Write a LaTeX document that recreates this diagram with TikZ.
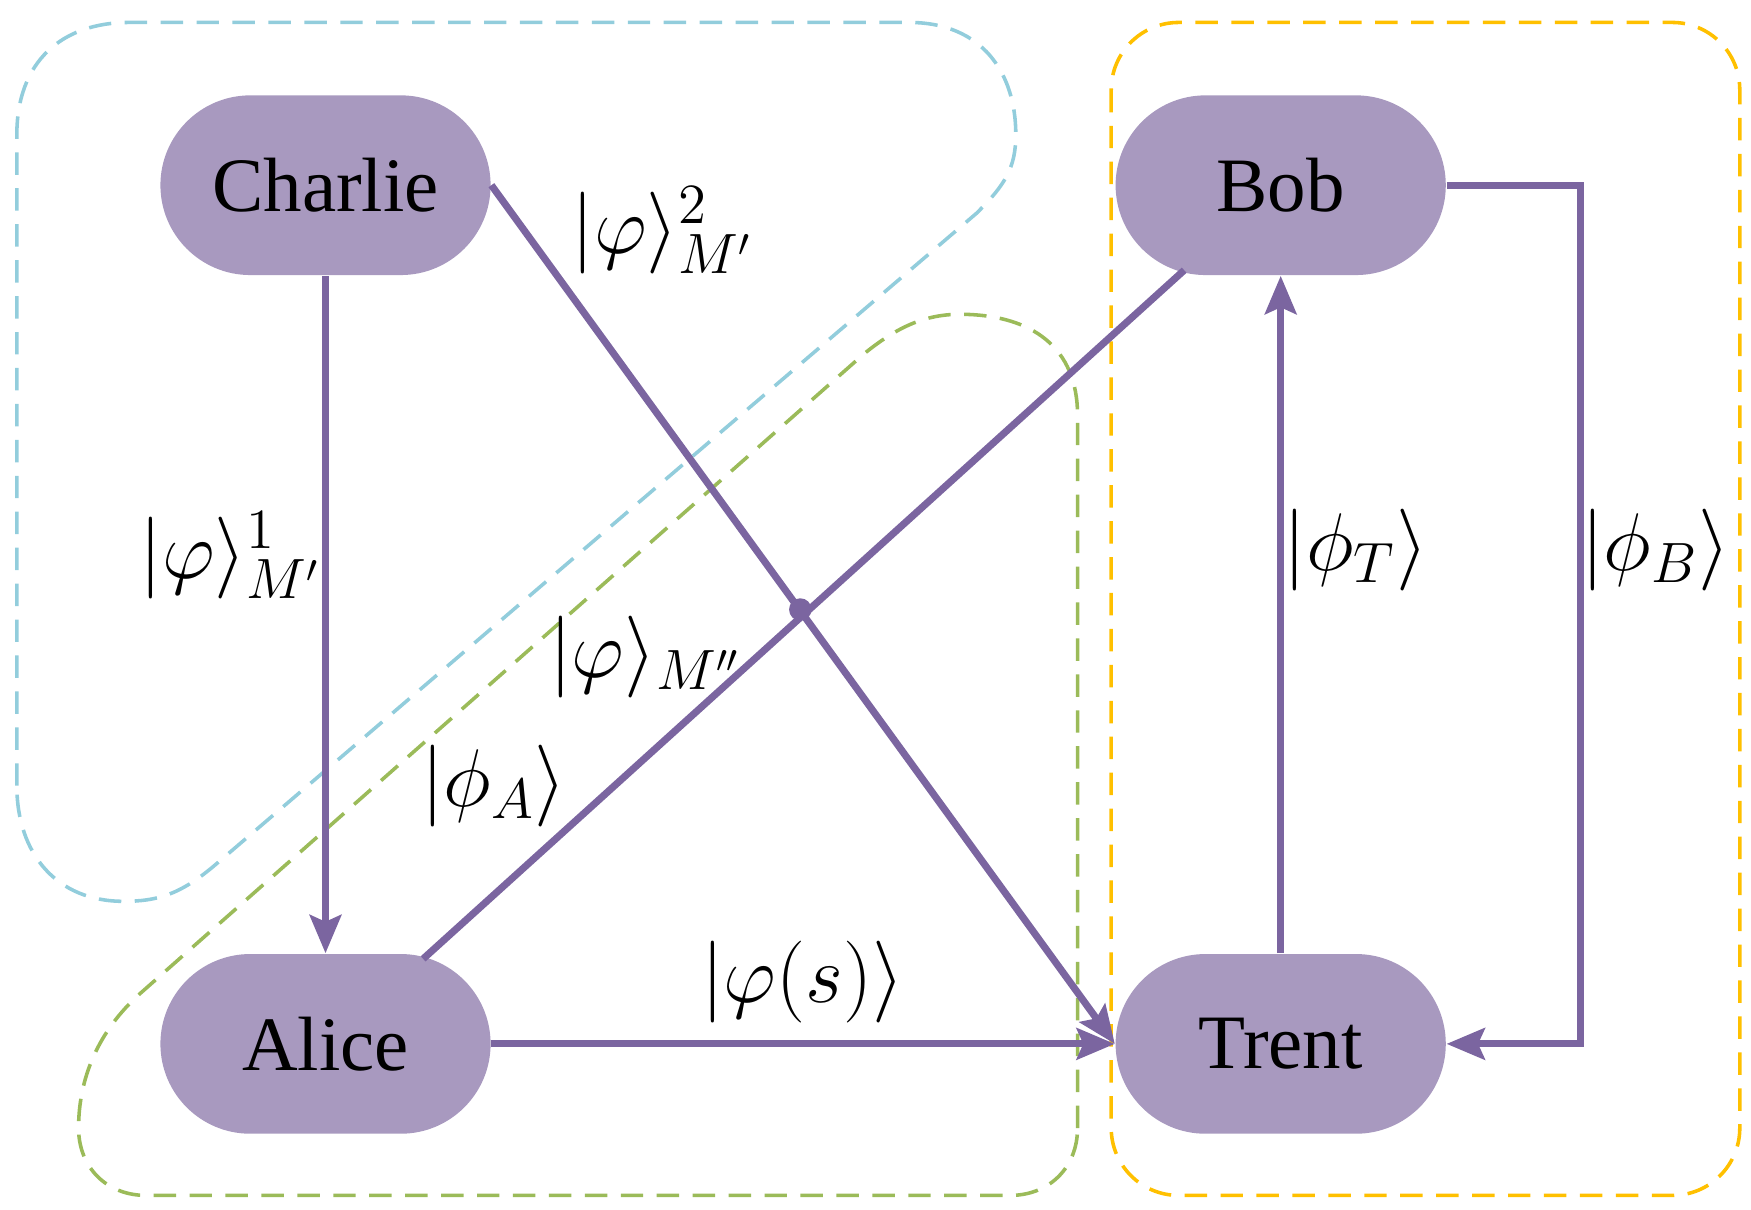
\documentclass[tikz,border=0pt]{standalone}
\usepackage{fontspec}
\setmainfont{Liberation Serif}
\usetikzlibrary{arrows.meta,calc}
\definecolor{nodefill}{HTML}{A899BF}
\definecolor{edge}{HTML}{7B65A0}
\definecolor{dblue}{HTML}{92CDDC}
\definecolor{dgreen}{HTML}{9BBB59}
\definecolor{dorange}{HTML}{FFC000}
\begin{document}
\begin{tikzpicture}[x=0.01cm,y=-0.01cm,
  party/.style={fill=nodefill,draw=none,rounded corners=0.8cm,minimum width=2.94cm,minimum height=1.6cm,font=\fontsize{19.5}{23}\selectfont,inner sep=0},
  link/.style={draw=edge,line width=1.8pt},
  arr/.style={link,-{Stealth[length=0.34cm,width=0.28cm,inset=0.06cm]}},
  zone/.style={line width=0.9pt,dash pattern=on 0.2cm off 0.12cm},
  lab/.style={font=\fontsize{19.5}{23}\selectfont}]
\useasboundingbox (0,0) rectangle (1560,1078);
% zones
\draw[zone,dblue] (15,700) -- (15,120) .. controls (15,55) and (55,20) .. (115,20)
  -- (810,20) .. controls (875,20) and (905,65) .. (905,120)
  .. controls (905,150) and (895,165) .. (870,190) -- (190,772)
  .. controls (160,797) and (140,803) .. (110,803)
  .. controls (50,803) and (15,760) .. (15,700) -- cycle;
\draw[zone,dgreen] (960,1005) -- (960,370) .. controls (960,310) and (920,280) .. (855,280)
  .. controls (820,280) and (795,295) .. (770,315) -- (125,885)
  .. controls (88,918) and (70,960) .. (70,1005)
  .. controls (70,1040) and (95,1065) .. (130,1065) -- (900,1065)
  .. controls (935,1065) and (960,1040) .. (960,1005) -- cycle;
\draw[zone,dorange,rounded corners=0.6cm] (990,20) rectangle (1550,1065);
% nodes
\node[party] (C) at (290,165) {Charlie};
\node[party] (B) at (1141,165) {Bob};
\node[party] (A) at (290,930) {Alice};
\node[party] (T) at (1141,930) {Trent};
\coordinate (Bsw) at ($(B.south)+(-86,-5)$);
\coordinate (Ane) at ($(A.north)+(87,5)$);
\coordinate (Bturn) at (1408,165);
\coordinate (Tturn) at (1408,930);
% connectors
\draw[arr] (C.south) -- (A.north);
\draw[arr] (C.east) -- (T.west);
\draw[link] (Bsw) -- (Ane);
\draw[arr] (A.east) -- (T.west);
\draw[arr] (T.north) -- (B.south);
\draw[arr] (B.east) -- (Bturn) -- (Tturn) -- (T.east);
\fill[edge] (713,543) circle (0.1cm);
% labels
\node[lab] (l1) at (590,205) {$|\varphi\rangle^{2}_{M'}$};
\node[lab] (l2) at (205,495) {$|\varphi\rangle^{1}_{M'}$};
\node[lab] (l3) at (575,585) {$|\varphi\rangle_{M''}$};
\node[lab] (l4) at (440,700) {$|\phi_{A}\rangle$};
\node[lab] (l5) at (715,875) {$|\varphi(s)\rangle$};
\node[lab] (l6) at (1208,490) {$|\phi_{T}\rangle$};
\node[lab] (l7) at (1475,490) {$|\phi_{B}\rangle$};
\end{tikzpicture}
\end{document}
